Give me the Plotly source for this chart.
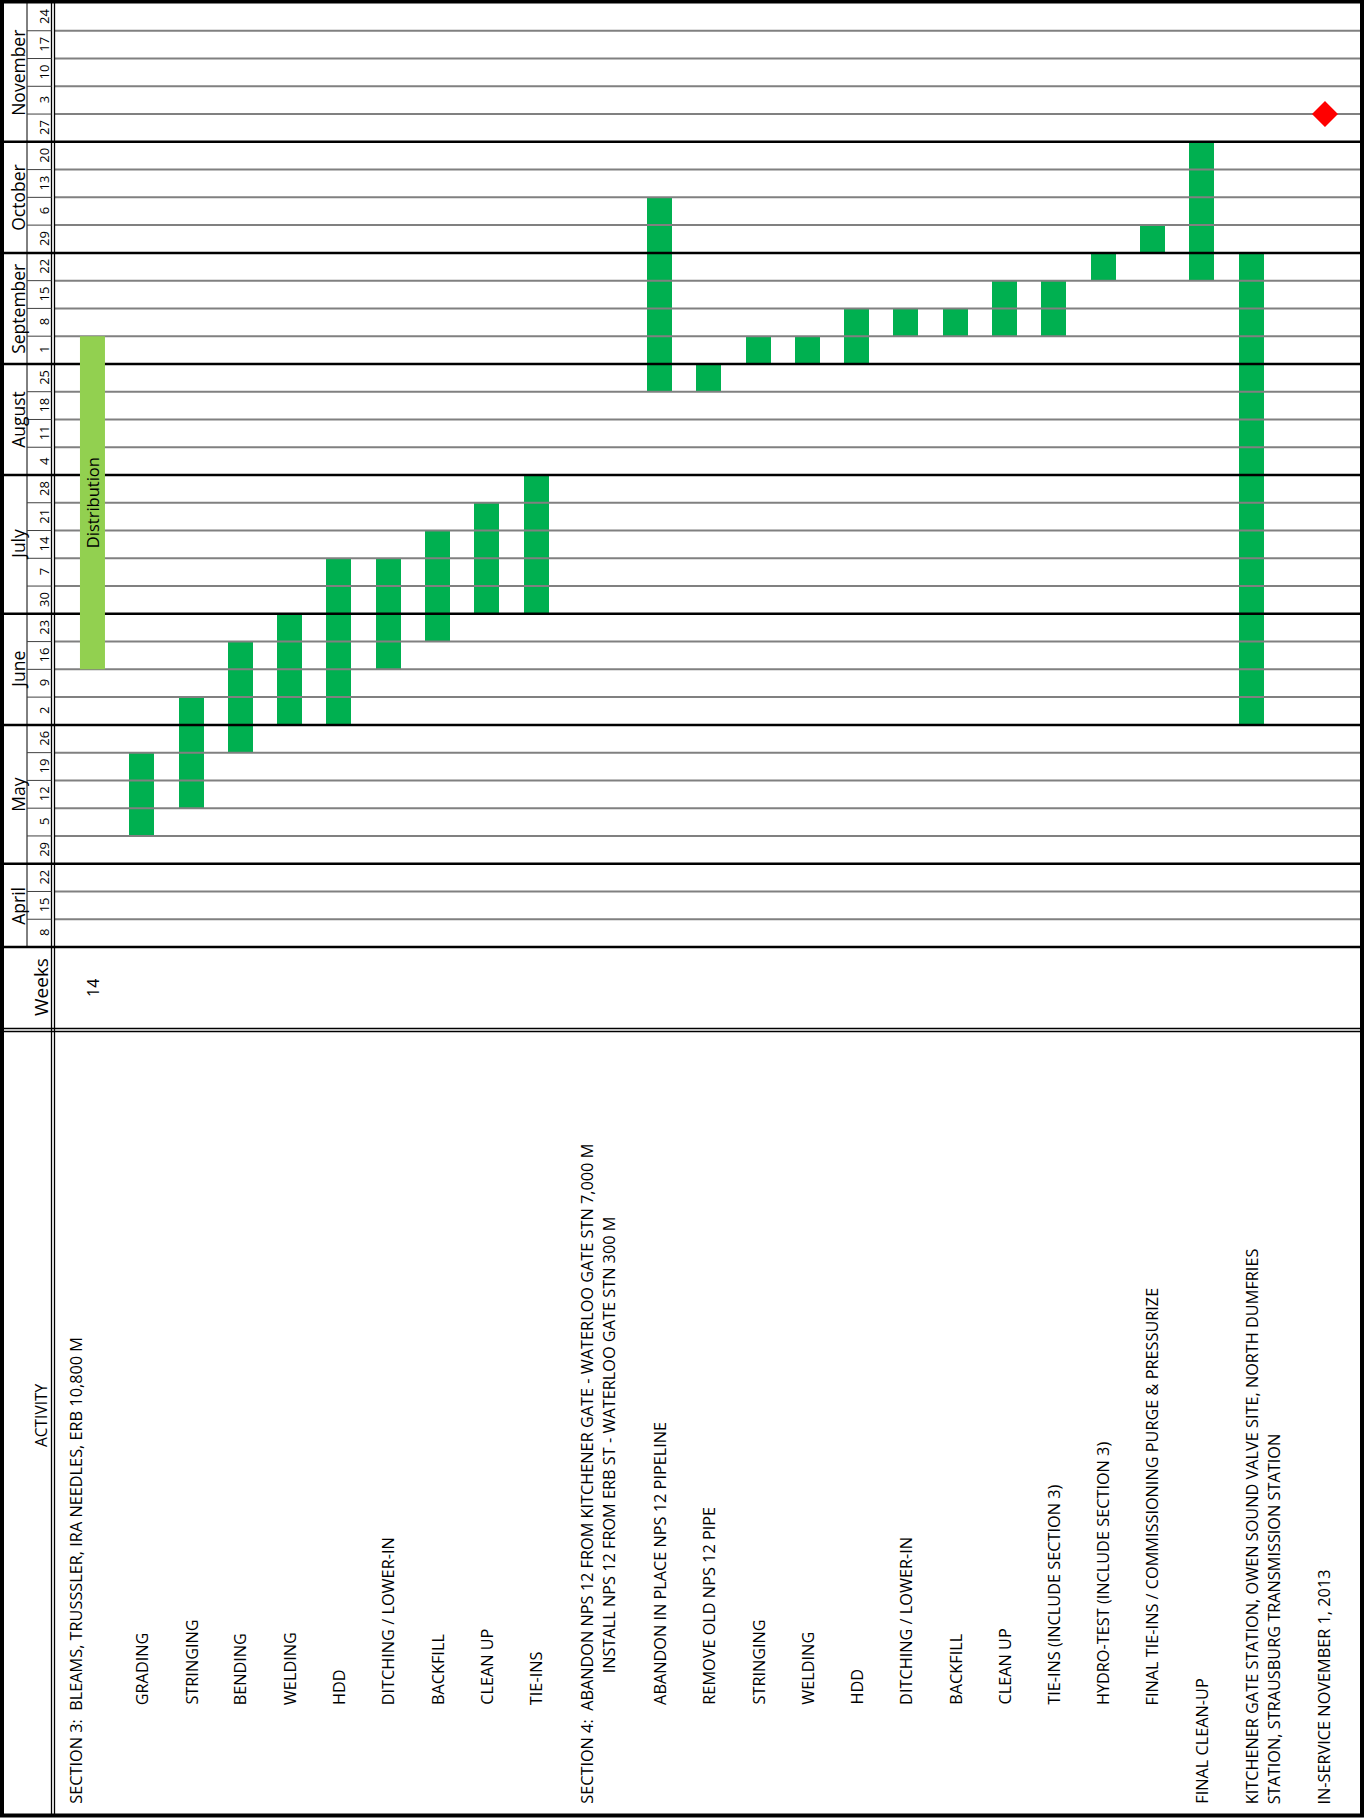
import plotly.graph_objects as go

W, H = 1364, 1818

# ---------------- data ----------------
month_names = ["April", "May", "June", "July", "August", "September", "October", "November"]
month_weeks = [3, 5, 4, 5, 4, 4, 4, 5]
week_labels = ["8", "15", "22", "29", "5", "12", "19", "26", "2", "9", "16", "23", "30",
               "7", "14", "21", "28", "4", "11", "18", "25", "1", "8", "15", "22",
               "29", "6", "13", "20", "27", "3", "10", "17", "24"]

activities = [
    "SECTION 3:\u00a0 BLEAMS, TRUSSSLER, IRA NEEDLES, ERB 10,800 M",
    "GRADING",
    "STRINGING",
    "BENDING",
    "WELDING",
    "HDD",
    "DITCHING / LOWER-IN",
    "BACKFILL",
    "CLEAN UP",
    "TIE-INS",
    "SECTION 4:\u00a0 ABANDON NPS 12 FROM KITCHENER GATE - WATERLOO GATE STN 7,000 M\nINSTALL NPS 12 FROM ERB ST - WATERLOO GATE STN 300 M",
    "ABANDON IN PLACE NPS 12 PIPELINE",
    "REMOVE OLD NPS 12 PIPE",
    "STRINGING",
    "WELDING",
    "HDD",
    "DITCHING / LOWER-IN",
    "BACKFILL",
    "CLEAN UP",
    "TIE-INS (INCLUDE SECTION 3)",
    "HYDRO-TEST (INCLUDE SECTION 3)",
    "FINAL TIE-INS / COMMISSIONING PURGE &amp; PRESSURIZE",
    "FINAL CLEAN-UP",
    "KITCHENER GATE STATION, OWEN SOUND VALVE SITE, NORTH DUMFRIES\nSTATION, STRAUSBURG TRANSMISSION STATION",
    "IN-SERVICE NOVEMBER 1, 2013",
]
# first week row index (0 = April 8) and number of weeks; None = no bar
bar_start = [10, 4, 5, 7, 8, 8, 10, 11, 12, 12, None, 20, 20, 21, 21, 21, 22, 22, 22, 22, 24, 25, 24, 8, None]
bar_weeks = [12, 3, 4, 4, 4, 6, 4, 4, 4, 5, None, 7, 1, 1, 1, 2, 1, 1, 2, 2, 1, 1, 5, 17, None]
distribution_index = 0
distribution_label = "Distribution"
milestone_index = 24
milestone_week = 30
weeks_value = "14"

# ---------------- layout / style ----------------
FONT = "Open Sans"
GREEN = "#00B050"
LIGHT_GREEN = "#92D050"
GRAY = "#808080"

col_width = [1] * 10 + [1.5] + [1] * 12 + [1.5, 1]
slot_origin = 0.26
unit_px = 49.3
chart_x0, chart_x1 = 55, 1360
chart_ytop, chart_ybot = 3, 947
bar_width = 25 / unit_px
x_total = (chart_x1 - chart_x0) / unit_px
n_weeks = sum(month_weeks)

label_dx = [-0.35] + [0.0] * 9 + [0.25] + [0.0] * 12 + [0.25, -0.02]
line_gap = 22 / unit_px
label_base = {0: 1806, 1: 1707, 2: 1675}
label_indent = [[0]] + [[1]] * 9 + [[0, 2]] + [[1]] * 11 + [[0], [0, 0], [0]]
label_size = 16.3


def px(x):
    return x / W


def py(y):
    return 1 - y / H


# slot positions
mark_x = []
s = slot_origin
for w in col_width:
    mark_x.append(s + 0.5)
    s += w

month_bounds = []
c = 0
for m in month_weeks:
    c += m
    month_bounds.append(c)

fig = go.Figure()

# activity bars (excluding distribution, drawn on top)
bx, bb, bl = [], [], []
for i, (st, nw) in enumerate(zip(bar_start, bar_weeks)):
    if st is None or i == distribution_index:
        continue
    bx.append(mark_x[i])
    bb.append(st)
    bl.append(nw)
fig.add_trace(go.Bar(x=bx, y=bl, base=bb, width=bar_width, marker=dict(color=GREEN, line=dict(width=0)),
                     hoverinfo="skip", showlegend=False))

# week gridlines in chart area
gx, gy, kx, ky = [], [], [], []
for b in range(1, n_weeks):
    if b in month_bounds:
        kx += [0, x_total, None]
        ky += [b, b, None]
    else:
        gx += [0, x_total, None]
        gy += [b, b, None]
fig.add_trace(go.Scatter(x=gx, y=gy, mode="lines", line=dict(color=GRAY, width=2),
                         hoverinfo="skip", showlegend=False))
fig.add_trace(go.Scatter(x=kx, y=ky, mode="lines", line=dict(color="black", width=2.5),
                         hoverinfo="skip", showlegend=False))

# milestone
fig.add_trace(go.Scatter(x=[mark_x[milestone_index]], y=[milestone_week], mode="markers",
                         marker=dict(symbol="diamond", size=20, color="red", line=dict(width=0)),
                         hoverinfo="skip", showlegend=False))

shapes = []
line_black = dict(color="black", width=1.3)
# header column separators
shapes.append(dict(type="line", xref="paper", yref="paper", x0=px(27), x1=px(27),
                   y0=py(chart_ytop), y1=py(chart_ybot), line=dict(color="black", width=1)))
for xx in (51.5, 54.5):
    shapes.append(dict(type="line", xref="paper", yref="paper", x0=px(xx), x1=px(xx),
                       y0=py(2), y1=py(1814), line=line_black))
for yy in (1028.5, 1031.5):
    shapes.append(dict(type="line", xref="paper", yref="paper", x0=px(3), x1=px(1361),
                       y0=py(yy), y1=py(yy), line=line_black))
shapes.append(dict(type="line", xref="paper", yref="paper", x0=px(3), x1=px(1361),
                   y0=py(chart_ybot), y1=py(chart_ybot), line=dict(color="black", width=2.5)))
# week lines in day column and month lines in header columns
for b in range(1, n_weeks):
    if b in month_bounds:
        shapes.append(dict(type="line", xref="paper", yref="y", x0=px(3), x1=px(55), y0=b, y1=b,
                           line=dict(color="black", width=2.5)))
    else:
        shapes.append(dict(type="line", xref="paper", yref="y", x0=px(27), x1=px(51.5), y0=b, y1=b,
                           line=dict(color="#404040", width=1)))
# distribution bar on top
d0 = bar_start[distribution_index]
dn = bar_weeks[distribution_index]
dx0 = mark_x[distribution_index]
shapes.append(dict(type="rect", xref="x", yref="y", x0=dx0 - bar_width / 2, x1=dx0 + bar_width / 2,
                   y0=d0, y1=d0 + dn, fillcolor=LIGHT_GREEN, line=dict(width=0), layer="above"))
# outer border
shapes.append(dict(type="rect", xref="paper", yref="paper", x0=px(2), x1=px(1362), y0=py(1.5), y1=py(1815.5),
                   line=dict(color="black", width=4)))

ann = []
# month labels
c = 0
for name, m in zip(month_names, month_weeks):
    ann.append(dict(text=name, xref="paper", yref="y", x=px(18.4), y=c + m / 2, showarrow=False,
                    textangle=-90, font=dict(family=FONT, size=17.5, color="black"),
                    xanchor="center", yanchor="middle"))
    c += m
# week labels
for i, wl in enumerate(week_labels):
    ann.append(dict(text=wl, xref="paper", yref="y", x=px(44), y=i + 0.5, showarrow=False,
                    textangle=-90, font=dict(family=FONT, size=13, color="black"),
                    xanchor="center", yanchor="middle"))
# headers
ann.append(dict(text="Weeks", xref="paper", yref="paper", x=px(40.5), y=py(987.5), showarrow=False,
                textangle=-90, font=dict(family=FONT, size=19, color="black"), xanchor="center", yanchor="middle"))
ann.append(dict(text=weeks_value, xref="x", yref="paper", x=mark_x[distribution_index], y=py(987.5),
                showarrow=False, textangle=-90, font=dict(family=FONT, size=16, color="black"),
                xanchor="center", yanchor="middle"))
ann.append(dict(text="ACTIVITY", xref="paper", yref="paper", x=px(41), y=py(1415), showarrow=False,
                textangle=-90, font=dict(family=FONT, size=15.5, color="black"), xanchor="center", yanchor="middle"))
# distribution label
ann.append(dict(text=distribution_label, xref="x", yref="y", x=dx0, y=d0 + dn / 2, showarrow=False,
                textangle=-90, font=dict(family=FONT, size=16.5, color="black"), xanchor="center", yanchor="middle"))
# activity labels
for i, lab in enumerate(activities):
    lines = lab.split("\n")
    n = len(lines)
    for k, ln in enumerate(lines):
        ann.append(dict(text=ln, xref="x", yref="paper",
                        x=mark_x[i] + label_dx[i] + (k - (n - 1) / 2) * line_gap,
                        y=py(label_base[label_indent[i][k]]), showarrow=False, textangle=-90,
                        font=dict(family=FONT, size=label_size, color="black"), xanchor="center", yanchor="bottom"))

fig.update_layout(
    width=W, height=H, margin=dict(l=0, r=0, t=0, b=0),
    paper_bgcolor="white", plot_bgcolor="white",
    xaxis=dict(domain=[px(chart_x0), px(chart_x1)], range=[0, x_total], visible=False, fixedrange=True),
    yaxis=dict(domain=[py(chart_ybot), py(chart_ytop)], range=[0, n_weeks], visible=False, fixedrange=True),
    shapes=shapes, annotations=ann, bargap=0, showlegend=False,
)

fig.write_html("out.html", config={"displayModeBar": False},
               post_script="document.body.style.margin='0';document.body.style.overflow='hidden';")
